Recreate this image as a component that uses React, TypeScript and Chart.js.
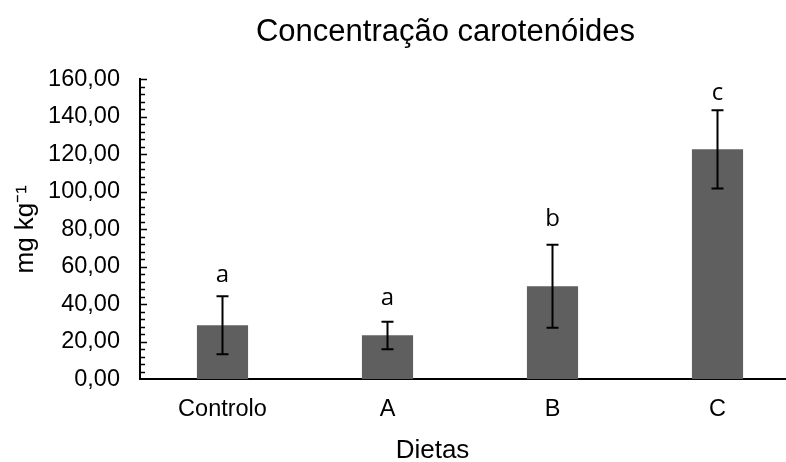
import React, { useEffect, useRef } from "react";
import { Chart, registerables } from "chart.js";

Chart.register(...registerables);

const categories = ["Controlo", "A", "B", "C"];
const means = [28.8, 23.5, 49.6, 122.7];
const errUpper = [44.3, 30.7, 71.8, 143.5];
const errLower = [13.3, 16.0, 27.5, 101.7];
const groupLetters = ["a", "a", "b", "c"];
const letterPos = [52, 39.7, 81.9, 149];
const yMin = 0;
const yMax = 160;
const yStep = 20;
const yMinorStep = 4;

const chartTitle = "Concentração carotenóides";
const xTitle = "Dietas";
const yTitle = "mg kg⁻¹";

const SANS = "'Liberation Sans', Arial, sans-serif";

const fmt = (v: number) => v.toFixed(2).replace(".", ",");

const extrasPlugin = {
  id: "extras",
  afterDatasetsDraw(chart: any) {
    const { ctx, chartArea } = chart;
    const y = chart.scales.y;
    const meta = chart.getDatasetMeta(0);
    ctx.save();
    // minor/major inside ticks on y axis
    ctx.strokeStyle = "#000";
    ctx.lineWidth = 1.5;
    for (let v = yMin + yMinorStep; v <= yMax + 0.001; v += yMinorStep) {
      const py = Math.round(y.getPixelForValue(v)) + 0.5;
      const major = Math.abs(v / yStep - Math.round(v / yStep)) < 1e-6;
      ctx.beginPath();
      ctx.moveTo(chartArea.left, py);
      ctx.lineTo(chartArea.left + (major ? 7 : 5), py);
      ctx.stroke();
    }
    // error bars
    ctx.lineWidth = 2;
    meta.data.forEach((bar: any, i: number) => {
      const x = bar.x;
      const yt = y.getPixelForValue(errUpper[i]);
      const yb = y.getPixelForValue(errLower[i]);
      ctx.beginPath();
      ctx.moveTo(x, yt);
      ctx.lineTo(x, yb);
      ctx.moveTo(x - 6, yt);
      ctx.lineTo(x + 6, yt);
      ctx.moveTo(x - 6, yb);
      ctx.lineTo(x + 6, yb);
      ctx.stroke();
      // letters
      ctx.fillStyle = "#000";
      ctx.font = "24px 'Open Sans', sans-serif";
      ctx.textAlign = "center";
      ctx.textBaseline = "alphabetic";
      ctx.fillText(groupLetters[i], x, y.getPixelForValue(letterPos[i]));
    });
    // chart title and x-axis title
    ctx.fillStyle = "#000";
    ctx.textAlign = "center";
    ctx.textBaseline = "alphabetic";
    ctx.font = "31px " + SANS;
    ctx.fillText(chartTitle, 445.5, 40.5);
    ctx.font = "26px " + SANS;
    ctx.fillText(xTitle, 432.5, 457.5);
    ctx.restore();
  },
};

export default function App() {
  const ref = useRef<HTMLCanvasElement>(null);
  useEffect(() => {
    document.body.style.margin = "0";
    const chart = new Chart(ref.current!, {
      type: "bar",
      data: {
        labels: categories,
        datasets: [
          {
            data: means,
            backgroundColor: "#5f5f5f",
            borderWidth: 0,
            categoryPercentage: 1,
            barPercentage: 0.31,
          },
        ],
      },
      options: {
        animation: false,
        responsive: true,
        maintainAspectRatio: false,
        layout: { padding: { left: 0, right: 0, top: 79.3, bottom: 0 } },
        plugins: {
          legend: { display: false },
          tooltip: { enabled: false },
          title: { display: false },
        },
        scales: {
          x: {
            grid: { display: false, drawTicks: false },
            border: { display: true, color: "#000", width: 2 },
            ticks: { color: "#000", font: { family: SANS, size: 23.5 }, padding: 16 },
            afterFit: (scale: any) => {
              scale.height = 462 - 379.3;
            },
          },
          y: {
            min: yMin,
            max: yMax,
            grid: { display: false, drawTicks: false },
            border: { display: true, color: "#000", width: 2 },
            ticks: {
              stepSize: yStep,
              color: "#000",
              font: { family: SANS, size: 23.5 },
              padding: 20,
              callback: (v: any) => fmt(Number(v)),
            },
            title: {
              display: true,
              text: yTitle,
              color: "#000",
              font: { family: SANS, size: 26 },
              padding: { top: 10, bottom: 0 },
            },
            afterFit: (scale: any) => {
              scale.width = 140;
            },
          },
        },
      },
      plugins: [extrasPlugin],
    });
    return () => chart.destroy();
  }, []);
  return (
    <div style={{ position: "fixed", left: 0, top: 0, width: 786, height: 462, overflow: "hidden", background: "#fff" }}>
      <div style={{ position: "relative", width: 800, height: 462 }}>
        <canvas ref={ref} />
      </div>
    </div>
  );
}
